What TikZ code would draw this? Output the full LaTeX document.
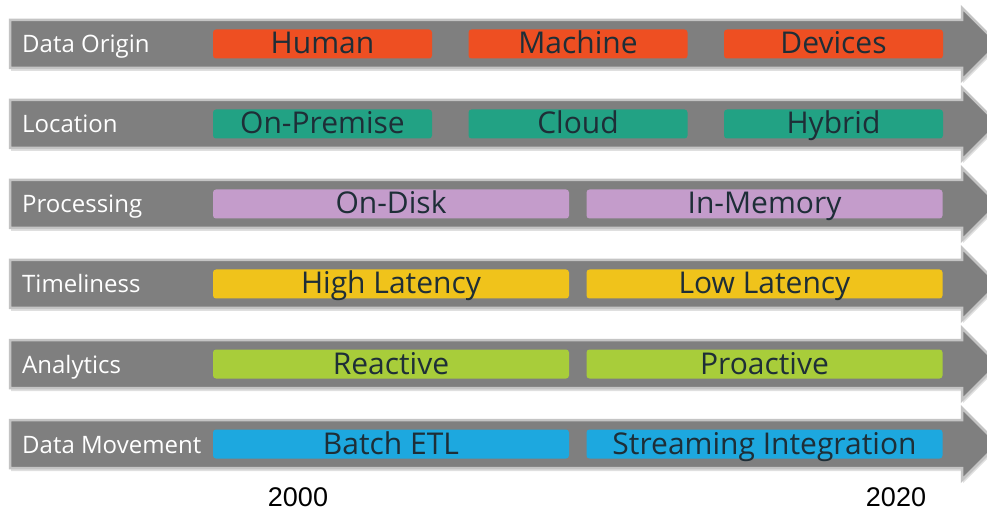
\documentclass[tikz,border=0pt]{standalone}
\usepackage{fontspec}
\setmainfont{Open Sans}
\newfontfamily\yearfont{Liberation Sans}
\usetikzlibrary{shadows}

\definecolor{arrowgray}{HTML}{7F7F7F}
\definecolor{rimgray}{HTML}{C4C4C4}
\definecolor{inkdark}{HTML}{1E2E37}
\definecolor{origincol}{HTML}{EE4F22}
\definecolor{locationcol}{HTML}{22A284}
\definecolor{processcol}{HTML}{C49CCB}
\definecolor{timecol}{HTML}{F0C31B}
\definecolor{analyticscol}{HTML}{A8CD3A}
\definecolor{movecol}{HTML}{1DA8DF}

\tikzset{
  rowlabel/.style={anchor=base west, text=white, inner sep=0pt,
    font=\fontsize{24}{28}\selectfont},
  stage/.style={rounded corners=3pt, minimum height=29pt, inner sep=0pt,
    text height=24pt, text depth=4pt,
    text=inkdark, font=\fontsize{30}{34}\selectfont},
  third/.style={stage, minimum width=219pt},
  half/.style={stage, minimum width=356pt},
  yearlabel/.style={anchor=base, inner sep=0pt,
    font=\yearfont\fontsize{27}{31}\selectfont}
}

\begin{document}
\begin{tikzpicture}[x=1pt, y=-1pt]
\useasboundingbox (0,0) rectangle (987,510);
\clip (0,0) rectangle (987,510);
\fill[white] (0,0) rectangle (987,510);

% gray timeline arrows
\foreach \c in {44,124,204,284,364,444}
  \draw[line width=2.5pt, draw=rimgray, fill=arrowgray,
        drop shadow={shadow xshift=1pt, shadow yshift=-3pt, opacity=0.25}]
    (10,\c-24) -- (962,\c-24) -- (962,\c-36) -- (998,\c) -- (962,\c+36)
    -- (962,\c+24) -- (10,\c+24) -- cycle;

% row titles
\node[rowlabel] (origin) at (22,53) {Data Origin};
\node[rowlabel] (location) at (22,133) {Location};
\node[rowlabel] (processing) at (22,213) {Processing};
\node[rowlabel] (timeliness) at (22,293) {Timeliness};
\node[rowlabel] (analytics) at (22,373) {Analytics};
\node[rowlabel] (movement) at (22,453) {Data Movement};

% stages
\node[third, fill=origincol] (human) at (322.5,44) {Human};
\node[third, fill=origincol] (machine) at (578,44) {Machine};
\node[third, fill=origincol] (devices) at (833.5,44) {Devices};

\node[third, fill=locationcol] (premise) at (322.5,124) {On-Premise};
\node[third, fill=locationcol] (cloud) at (578,124) {Cloud};
\node[third, fill=locationcol] (hybrid) at (833.5,124) {Hybrid};

\node[half, fill=processcol] (disk) at (391,204) {On-Disk};
\node[half, fill=processcol] (memory) at (764.5,204) {In-Memory};

\node[half, fill=timecol] (high) at (391,284) {High Latency};
\node[half, fill=timecol] (low) at (764.5,284) {Low Latency};

\node[half, fill=analyticscol] (reactive) at (391,364) {Reactive};
\node[half, fill=analyticscol] (proactive) at (764.5,364) {Proactive};

\node[half, fill=movecol] (batch) at (391,444) {Batch ETL};
\node[half, fill=movecol] (stream) at (764.5,444) {Streaming Integration};

% years
\node[yearlabel] (start) at (298,506) {2000};
\node[yearlabel] (finish) at (896,506) {2020};
\end{tikzpicture}
\end{document}
